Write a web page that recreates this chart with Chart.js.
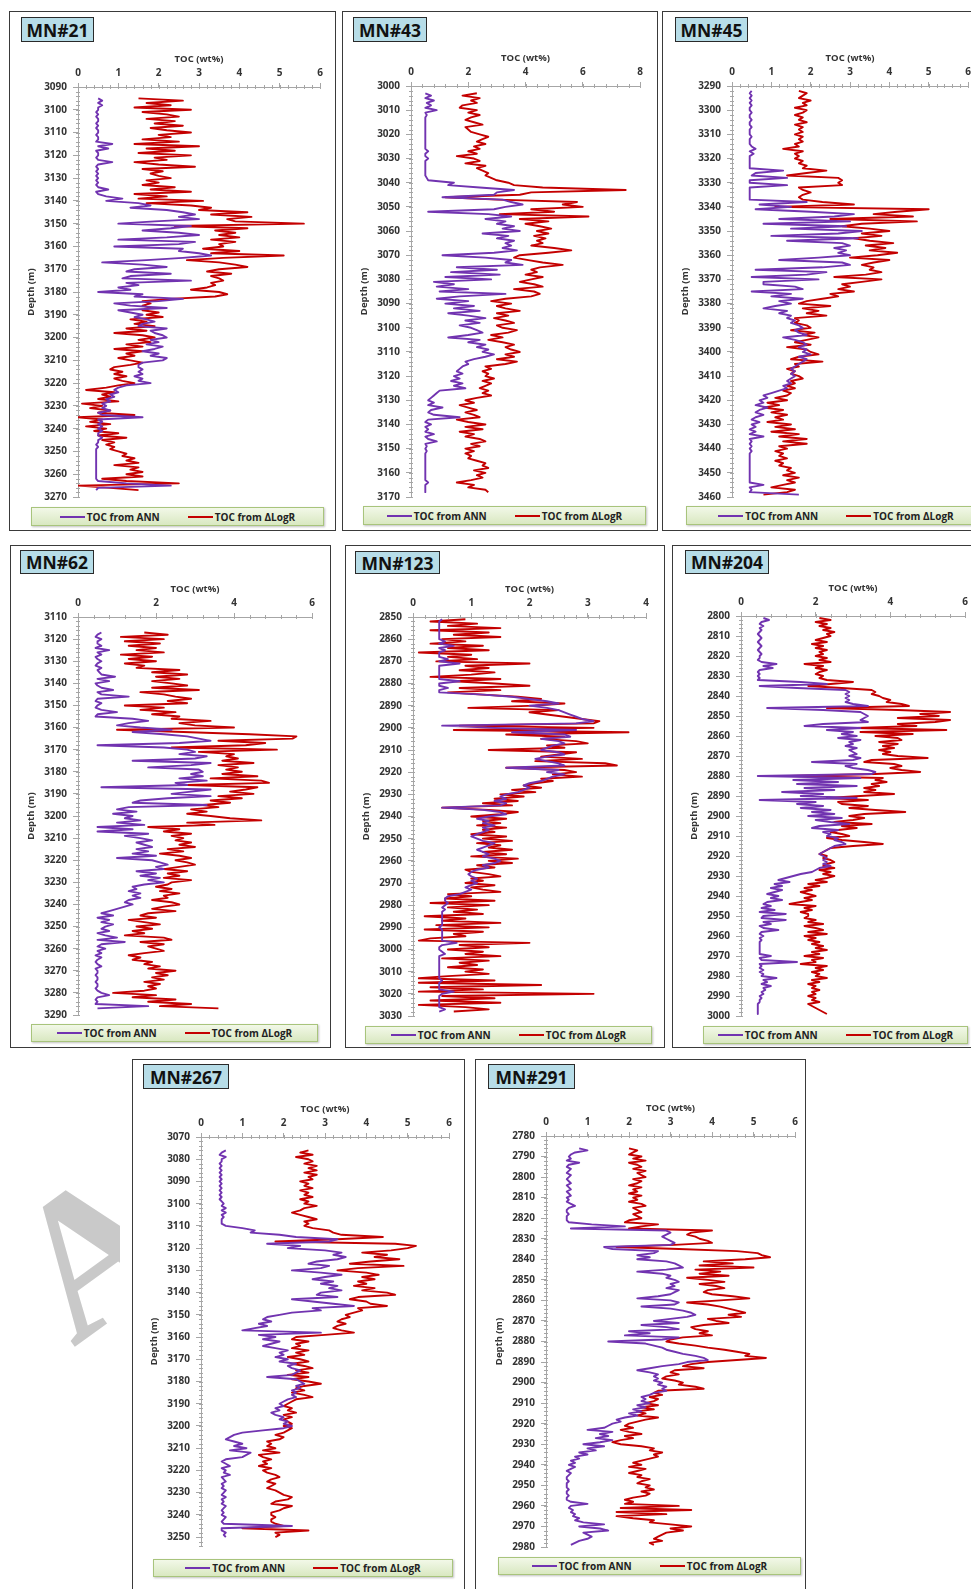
<!DOCTYPE html>
<html>
<head>
<meta charset="utf-8">
<title>TOC from ANN and ΔLogR</title>
<script src="https://cdn.jsdelivr.net/npm/chart.js@4.4.1/dist/chart.umd.min.js"></script>
<style>
  html, body { margin: 0; padding: 0; background: #fff; }
  body { position: relative; width: 971px; height: 1589px; overflow: hidden; font-family: "Open Sans", "DejaVu Sans", sans-serif; }
  .panel { position: absolute; box-sizing: border-box; border: 1.5px solid #3a3a3a; background: #fff; }
  .well-name { position: absolute; box-sizing: border-box; background: #b7dde8; border: 1.5px solid #2a2a2a;
    font-weight: 700; font-size: 17.5px; color: #111; display: flex; align-items: center; justify-content: center; }
  .legend { position: absolute; box-sizing: border-box; border: 1px solid #a8c47c;
    background: linear-gradient(#f2f8e8, #d9e8c1); box-shadow: 1px 1px 2px rgba(0,0,0,0.25);
    display: flex; align-items: center; justify-content: center; gap: 28px;
    font-size: 10px; font-weight: 700; color: #222; }
  .legend span { display: flex; align-items: center; }
  .legend i { display: inline-block; width: 25px; height: 2px; margin-right: 2px; }
  canvas.log { position: absolute; }
  .stamp-clip { position: absolute; left: 0; top: 1150px; width: 120px; height: 230px; overflow: hidden; }
  .stamp { position: absolute; left: -18px; top: 14px; font-family: "Liberation Serif", "DejaVu Serif", serif;
    font-weight: 700; font-size: 200px; line-height: 1; color: #c9c9c9; transform: rotate(-36deg); transform-origin: 72px 35px; }
</style>
</head>
<body>
<div class="stamp-clip"><span class="stamp">A</span></div>
<script>
// TOC logs, one sample per metre of depth starting at each well's top depth
const DEPTH_STEP = 1;

const mn21Top = 3095;
const mn21Ann = [
  0.5, 0.6, 0.5, 0.6, 0.5,
  0.5, 0.45, 0.5, 0.45, 0.5, 0.5, 0.45, 0.5, 0.45, 0.5,
  0.5, 0.45, 0.5, 0.5, 0.45, 0.85, 0.5, 0.75, 0.45, 0.5,
  0.5, 0.45, 0.5, 0.85, 0.5, 0.45, 0.5, 0.45, 0.5, 0.45,
  0.5, 0.45, 0.5, 0.45, 0.5, 0.75, 0.45, 0.5, 0.7, 1.1,
  0.7, 1.5, 1.8, 1.3, 2.2, 2.6, 2.9, 2.5, 3.0, 1.9,
  1.0, 2.8, 2.3, 1.6, 2.5, 3.0, 2.2, 1.0, 2.9, 2.5,
  0.9, 2.6, 2.5, 3.0, 3.3, 2.6, 1.7, 0.6, 1.6, 2.2,
  1.4, 1.2, 2.3, 1.3, 1.1, 2.8, 1.2, 1.5, 1.0, 1.3,
  0.5, 1.6, 1.4, 2.6, 2.0, 0.9, 1.3, 2.2, 1.0, 1.3,
  1.6, 1.4, 1.7, 1.9, 1.6, 1.5, 2.2, 1.8, 1.9, 2.1,
  2.2, 1.8, 2.0, 1.7, 2.1, 1.9, 1.6, 2.0, 1.8, 2.2,
  2.1, 1.6, 1.5, 1.5, 1.6, 1.5, 1.6, 1.4, 1.6, 1.5,
  1.8, 1.2, 1.0, 0.9, 1.0, 0.8, 0.9, 0.7, 0.8, 0.6,
  0.7, 0.6, 0.8, 0.5, 0.6, 1.6, 0.5, 0.6, 0.5, 0.6,
  0.5, 0.6, 0.5, 0.5, 0.6, 0.5, 0.5, 0.45, 0.5, 0.45,
  0.45, 0.45, 0.45, 0.45, 0.45, 0.45, 0.45, 0.45, 0.45, 0.45,
  0.45, 0.45, 0.45, 0.5, 1.2, 2.3, 0.5, 0.45
];
const mn21Dlr = [
  1.5, 2.6, 1.7, 2.3, 1.4,
  2.8, 1.6, 2.2, 2.5, 1.7, 2.4, 1.9, 2.6, 1.8, 2.2,
  2.8, 2.0, 2.3, 1.6, 2.5, 1.4, 3.0, 1.7, 2.4, 1.5,
  2.8, 1.9, 2.2, 1.4, 2.0, 2.9, 1.6, 2.1, 1.8, 2.0,
  2.3, 1.7, 2.0, 1.6, 2.4, 1.8, 2.8, 1.4, 2.2, 1.5,
  3.1, 1.7, 2.8, 3.3, 3.0, 4.2, 3.3, 4.3, 3.7, 3.9,
  5.6, 2.4, 4.2, 3.4, 3.9, 3.5, 4.0, 3.3, 3.9, 3.5,
  3.6, 3.1, 4.0, 3.3, 5.1, 3.6, 2.7, 3.5, 3.9, 4.2,
  3.5, 3.2, 3.8, 3.3, 3.5, 3.6, 3.3, 3.4, 3.2, 2.8,
  3.5, 3.7, 3.4, 2.3, 1.6, 1.8, 1.6, 1.8, 1.6, 2.0,
  1.7, 2.1, 1.3, 1.7, 1.4, 1.9, 1.2, 1.7, 0.9, 1.6,
  1.9, 1.5, 1.8, 1.2, 1.6, 0.9, 1.6, 1.2, 1.4, 1.0,
  1.3, 1.6, 1.3, 0.9, 0.8, 1.1, 0.9, 1.2, 0.9, 1.1,
  1.4, 1.0, 0.7, 0.2, 0.9, 0.6, 0.8, 0.5, 1.0, 0.1,
  0.6, 0.3, 0.8, 0.5, 1.4, 0.0, 0.6, 0.3, 0.8, 0.2,
  0.7, 0.4, 1.0, 0.5, 1.2, 0.6, 0.9, 0.7, 0.9, 0.8,
  1.0, 1.2, 1.1, 1.4, 1.2, 1.5, 0.9, 1.5, 1.3, 1.6,
  1.2, 1.6, 0.6, 1.2, 2.5, 0.0, 0.8, 1.5
];

const mn43Top = 3003;
const mn43Ann = [
  0.5, 0.7, 0.5, 0.8, 0.55, 0.7, 0.5,
  0.9, 0.5, 0.55, 0.5, 0.5, 0.5, 0.5, 0.5, 0.5, 0.5,
  0.5, 0.5, 0.5, 0.5, 0.5, 0.5, 0.5, 0.6, 0.5, 0.5,
  0.6, 0.5, 0.5, 0.5, 0.5, 0.5, 0.5, 0.5, 0.55, 0.6,
  1.5, 1.3, 2.4, 3.6, 3.0, 2.9, 1.1, 3.2, 3.5, 3.9,
  3.3, 2.9, 0.6, 2.7, 3.5, 2.6, 3.3, 3.0, 3.6, 3.2,
  3.8, 2.5, 3.4, 3.0, 3.6, 3.3, 3.5, 3.2, 3.7, 2.9,
  1.1, 2.6, 3.5, 3.3, 3.9, 1.6, 3.0, 1.4, 3.1, 1.2,
  2.8, 0.8, 1.5, 0.9, 2.0, 1.0, 3.3, 1.7, 0.9, 2.0,
  1.2, 2.2, 1.5, 2.4, 1.3, 2.0, 2.6, 1.9, 2.4, 1.7,
  2.1, 2.3, 2.5, 2.0, 1.3, 2.4, 2.0, 2.6, 2.3, 2.7,
  2.5, 2.9, 2.6, 2.2, 1.9, 2.0, 1.8, 1.7, 1.6, 1.8,
  1.5, 1.7, 1.4, 1.8, 1.5, 1.9, 1.0, 0.9, 0.8, 0.7,
  0.6, 0.8, 0.6, 1.1, 0.7, 0.6, 0.8, 1.7, 0.6, 0.5,
  0.7, 0.5, 0.6, 0.5, 0.8, 0.5, 0.6, 0.9, 0.5, 0.55,
  0.5, 0.55, 0.5, 0.5, 0.5, 0.5, 0.5, 0.5, 0.5, 0.5,
  0.5, 0.5, 0.5, 0.5, 0.6, 0.5, 0.5, 0.5, 0.5
];
const mn43Dlr = [
  2.3, 1.8, 2.4, 2.1, 2.3, 1.8, 1.7,
  2.3, 2.0, 2.4, 2.1, 1.9, 2.2, 2.5, 1.9, 2.0, 2.1,
  2.4, 2.7, 2.5, 2.3, 2.6, 2.2, 2.4, 2.0, 2.3, 1.6,
  2.2, 2.4, 1.9, 2.6, 2.3, 2.5, 2.7, 2.6, 2.8, 3.0,
  3.4, 3.6, 4.6, 7.5, 4.2, 3.8, 1.2, 3.0, 5.8, 5.3,
  6.0, 4.2, 5.0, 3.1, 6.2, 3.8, 4.8, 4.0, 4.5, 4.9,
  4.4, 4.8, 4.3, 4.7, 4.4, 4.6, 4.2, 5.0, 5.6, 4.8,
  3.8, 3.6, 4.1, 4.6, 5.3, 4.5, 4.2, 4.4, 4.0, 4.6,
  4.2, 3.8, 4.3, 4.6, 3.6, 4.3, 4.5, 4.2, 3.3, 2.8,
  3.5, 3.0, 3.3, 3.8, 3.0, 3.4, 2.9, 3.3, 3.6, 3.0,
  3.2, 3.7, 3.4, 2.8, 3.2, 2.7, 3.2, 3.6, 3.3, 3.5,
  3.8, 3.3, 3.6, 3.0, 3.7, 3.3, 2.6, 2.8, 2.5, 2.7,
  2.6, 2.9, 2.5, 2.8, 2.6, 2.4, 2.7, 2.5, 2.8, 2.3,
  1.9, 2.2, 1.7, 2.0, 2.3, 1.9, 2.2, 2.4, 1.6, 2.0,
  2.6, 1.9, 2.5, 1.7, 2.2, 1.9, 2.4, 2.6, 2.1, 2.4,
  1.9, 2.2, 1.9, 2.1, 2.0, 2.3, 2.6, 2.5, 2.7, 2.2,
  2.6, 2.3, 2.5, 2.1, 1.6, 2.2, 2.0, 2.6, 2.7
];

const mn45Top = 3292;
const mn45Ann = [
  0.5, 0.45, 0.5, 0.45, 0.5, 0.45, 0.5, 0.45,
  0.45, 0.5, 0.45, 0.45, 0.5, 0.45, 0.45, 0.5, 0.45, 0.45,
  0.45, 0.5, 0.45, 0.45, 0.45, 0.5, 0.6, 0.45, 0.55, 0.45,
  0.45, 0.45, 0.45, 0.45, 0.45, 1.3, 0.6, 0.5, 1.4, 0.45,
  0.45, 1.4, 0.45, 0.45, 0.45, 0.45, 0.45, 0.45, 1.9, 0.7,
  1.5, 0.6, 2.0, 3.1, 2.6, 1.2, 3.0, 0.8, 2.9, 1.5,
  3.3, 2.7, 1.0, 3.2, 1.4, 2.8, 3.0, 2.6, 2.9, 2.7,
  3.0, 2.2, 1.2, 2.8, 3.0, 2.3, 0.6, 2.4, 1.9, 0.5,
  2.2, 0.8, 0.8, 1.6, 1.8, 0.5, 1.5, 1.0, 1.8, 1.2,
  1.5, 1.1, 0.8, 1.4, 1.2, 1.5, 1.4, 1.6, 1.5, 1.7,
  1.8, 1.6, 1.7, 1.9, 1.3, 1.6, 1.8, 1.9, 1.7, 1.9,
  1.8, 2.0, 1.7, 1.9, 1.8, 1.7, 1.6, 1.5, 1.6, 1.5,
  1.6, 1.5, 1.4, 1.5, 1.3, 1.4, 1.2, 1.0, 0.8, 0.9,
  0.7, 0.8, 0.6, 0.9, 0.7, 0.6, 0.8, 0.6, 0.5, 0.7,
  0.5, 0.6, 0.45, 0.6, 0.45, 0.8, 0.45, 0.5, 0.45, 0.5,
  0.45, 0.5, 0.45, 0.45, 0.45, 0.45, 0.45, 0.45, 0.45, 0.45,
  0.45, 0.45, 0.45, 0.45, 0.45, 0.8, 0.45, 0.5, 0.45, 1.7
];
const mn45Dlr = [
  1.7, 1.9, 1.8, 1.7, 2.0, 1.8, 1.9, 1.6,
  1.9, 1.8, 1.6, 1.8, 1.7, 1.9, 1.6, 1.8, 1.7, 1.8,
  1.6, 1.8, 1.7, 1.8, 1.6, 1.7, 1.3, 1.8, 1.6, 1.7,
  1.6, 1.8, 1.7, 1.9, 1.8, 2.4, 1.9, 1.4, 2.7, 2.8,
  2.7, 2.8, 1.7, 1.8, 2.0, 1.8, 1.7, 1.8, 2.3, 3.1,
  1.1, 5.0, 4.2, 3.6, 4.6, 2.5, 4.7, 3.3, 2.8, 3.5,
  4.0, 3.3, 3.8, 3.1, 3.5, 4.1, 3.4, 3.9, 3.5, 4.2,
  3.7, 3.0, 4.0, 3.6, 3.3, 3.6, 3.5, 3.8, 3.4, 2.6,
  3.8, 3.3, 2.8, 3.0, 2.7, 3.1, 2.5, 2.7, 2.3, 1.9,
  1.7, 2.5, 1.8, 2.2, 1.9, 2.4, 1.6, 1.7, 1.6, 1.9,
  2.0, 1.5, 2.1, 1.8, 2.2, 1.9, 1.6, 2.0, 1.4, 1.9,
  2.0, 2.2, 1.7, 1.5, 2.3, 1.6, 1.7, 1.4, 1.6, 1.5,
  1.7, 1.8, 1.5, 1.6, 1.4, 1.6, 1.3, 1.5, 1.4, 1.1,
  1.4, 0.9, 1.2, 0.8, 1.3, 1.0, 1.4, 1.1, 1.3, 0.9,
  1.5, 1.1, 1.6, 1.0, 1.7, 1.2, 1.9, 1.3, 1.9, 1.2,
  1.4, 1.1, 1.3, 1.2, 1.4, 1.1, 1.3, 1.2, 1.5, 1.4,
  1.6, 1.3, 1.7, 1.4, 1.6, 1.3, 1.0, 1.6, 1.4, 0.8
];

const mn62Top = 3117;
const mn62Ann = [
  0.6, 0.5, 0.45,
  0.6, 0.5, 0.5, 0.6, 0.45, 0.8, 0.5, 0.6, 0.45, 0.5,
  0.6, 0.5, 0.45, 0.6, 0.5, 0.55, 0.6, 0.95, 0.5, 0.8,
  0.45, 0.5, 0.6, 0.9, 0.5, 0.6, 1.3, 0.5, 0.45, 0.6,
  0.5, 0.45, 0.6, 1.0, 0.5, 0.45, 1.4, 1.8, 1.3, 1.0,
  1.6, 2.4, 1.4, 2.2, 2.8, 3.1, 3.4, 2.6, 0.5, 2.2,
  2.8, 3.0, 2.6, 3.3, 3.0, 1.4, 3.4, 2.9, 1.8, 3.1,
  3.2, 2.9, 3.2, 2.6, 3.3, 2.5, 2.8, 0.6, 3.4, 2.9,
  2.4, 3.4, 2.3, 1.6, 1.4, 3.3, 1.3, 1.0, 1.5, 0.9,
  1.4, 1.2, 1.6, 1.0, 1.7, 0.5, 1.4, 0.5, 1.8, 1.2,
  1.6, 1.9, 1.5, 1.7, 1.9, 1.5, 1.8, 1.4, 2.0, 1.0,
  1.9, 2.1, 2.3, 2.0, 2.2, 1.5, 2.0, 1.6, 2.1, 1.8,
  2.2, 1.7, 1.4, 1.5, 1.3, 1.6, 1.4, 1.6, 1.3, 1.2,
  1.4, 1.2, 1.0, 0.8, 0.6, 0.9, 0.5, 0.8, 0.6, 0.9,
  0.7, 0.6, 0.8, 0.5, 0.7, 1.0, 0.5, 1.2, 0.6, 0.5,
  0.7, 0.5, 0.6, 0.45, 0.6, 0.5, 0.45, 0.5, 0.6, 0.45,
  0.5, 0.5, 0.45, 0.5, 0.5, 0.45, 0.5, 0.5, 0.45, 0.5,
  0.6, 0.8, 0.5, 0.45, 0.5, 0.45, 1.8, 0.5
];
const mn62Dlr = [
  1.7, 2.3, 1.1,
  2.2, 1.2, 2.1, 1.3, 2.0, 1.5, 2.2, 1.1, 1.9, 1.3,
  2.0, 1.2, 1.7, 1.5, 2.6, 1.9, 2.8, 2.0, 2.6, 1.9,
  2.4, 2.8, 1.9, 3.1, 1.6, 2.2, 2.5, 2.9, 2.3, 2.8,
  1.2, 2.2, 1.6, 2.5, 1.9, 2.6, 2.4, 3.4, 2.6, 3.0,
  4.0, 1.0, 2.7, 4.4, 5.6, 5.5, 3.6, 4.8, 4.3, 2.4,
  5.1, 3.1, 4.0, 3.8, 4.1, 3.7, 4.5, 3.6, 4.1, 3.8,
  4.2, 3.7, 4.6, 3.4, 4.7, 4.9, 2.8, 4.6, 4.3, 3.9,
  4.5, 3.6, 4.2, 3.4, 3.9, 3.2, 3.6, 2.9, 3.3, 2.8,
  3.4, 3.9, 4.7, 2.8, 3.5, 1.8, 2.6, 2.2, 2.9, 2.4,
  2.7, 2.5, 2.9, 2.6, 3.0, 2.3, 2.7, 2.1, 2.6, 2.9,
  2.5, 2.8, 3.0, 2.6, 2.2, 2.8, 2.3, 2.6, 2.2, 2.9,
  2.4, 2.3, 2.0, 2.4, 2.1, 2.6, 2.2, 2.3, 1.9, 2.4,
  2.6, 2.2, 1.9, 2.5, 1.8, 1.6, 2.0, 1.3, 1.7, 2.1,
  1.5, 1.9, 1.4, 1.7, 1.2, 2.2, 2.4, 1.6, 2.2, 1.8,
  2.0, 2.2, 1.7, 1.3, 1.6, 1.4, 1.9, 1.7, 2.1, 1.8,
  2.5, 2.0, 2.3, 1.9, 2.2, 1.7, 2.1, 1.8, 2.0, 1.7,
  0.9, 2.0, 1.4, 2.5, 1.8, 2.9, 2.1, 3.6
];

const mn123Top = 2851;
const mn123Ann = [
  0.5, 0.45, 0.45, 0.45, 0.45, 0.45, 0.45, 0.45, 0.45,
  0.45, 0.55, 0.45, 0.7, 0.45, 0.55, 0.45, 0.45, 0.45, 0.6,
  0.45, 0.8, 0.45, 0.45, 0.45, 0.45, 0.45, 0.45, 0.45, 0.8,
  0.45, 0.45, 0.6, 0.45, 0.45, 1.2, 1.7, 2.0, 2.3, 2.5,
  2.0, 2.3, 2.5, 2.6, 2.7, 2.8, 2.9, 3.1, 2.8, 0.5,
  1.4, 2.8, 1.7, 2.6, 2.7, 2.2, 2.5, 2.6, 2.4, 2.3,
  2.2, 2.5, 2.6, 2.3, 2.1, 2.3, 2.5, 2.6, 1.6, 2.5,
  2.3, 2.6, 2.4, 2.3, 2.2, 2.0, 1.9, 2.0, 1.9, 1.8,
  1.6, 1.5, 1.6, 1.4, 1.6, 1.5, 0.5, 1.2, 1.5, 1.6,
  1.3, 1.1, 1.3, 1.2, 1.4, 1.2, 1.3, 1.2, 1.1, 1.0,
  1.1, 1.2, 1.4, 1.3, 1.2, 1.1, 1.2, 1.3, 1.2, 1.4,
  1.5, 1.4, 1.2, 1.3, 1.1, 1.0, 0.95, 1.0, 1.1, 1.0,
  1.1, 1.0, 0.9, 1.0, 0.9, 0.8, 0.6, 0.55, 0.55, 0.6,
  0.55, 0.5, 0.55, 0.5, 0.5, 0.5, 0.5, 0.5, 0.5, 0.5,
  0.45, 0.5, 0.5, 0.5, 0.5, 0.5, 0.5, 0.75, 0.5, 0.45,
  0.45, 0.5, 0.55, 0.45, 0.45, 0.45, 0.45, 0.45, 0.45, 0.45,
  0.45, 0.45, 0.45, 0.45, 0.5, 0.45, 0.45, 0.45, 0.45, 0.7,
  0.5, 0.45, 0.45, 0.45, 0.45, 0.45, 0.45, 0.55, 0.45
];
const mn123Dlr = [
  0.9, 0.3, 1.1, 0.6, 1.5, 0.3, 1.3, 0.7, 1.5,
  0.5, 0.9, 0.3, 1.2, 0.6, 1.3, 0.1, 1.0, 0.6, 1.1,
  0.4, 2.0, 0.9, 1.3, 0.8, 1.4, 1.0, 0.3, 1.5, 0.7,
  1.4, 2.0, 0.8, 1.5, 0.6, 1.2, 1.8, 2.2, 1.7, 2.6,
  2.1, 0.95, 2.5, 2.0, 2.3, 2.6, 2.9, 3.2, 3.1, 0.8,
  3.1, 0.7, 3.7, 1.6, 2.6, 2.2, 2.8, 3.0, 2.3, 2.6,
  1.3, 2.8, 2.5, 2.2, 2.9, 2.1, 3.3, 3.5, 1.6, 2.6,
  2.8, 2.4, 2.9, 2.2, 2.4, 2.1, 1.9, 2.2, 1.7, 2.1,
  1.5, 1.9, 1.4, 1.8, 1.2, 1.7, 0.5, 1.3, 1.8, 1.5,
  1.0, 1.6, 1.2, 1.5, 1.1, 1.6, 1.2, 1.4, 1.0, 1.6,
  1.2, 1.7, 1.1, 1.5, 1.3, 1.7, 1.2, 1.6, 1.0, 1.8,
  1.3, 1.7, 1.1, 1.4, 0.9, 1.0, 1.3, 1.5, 1.0, 1.2,
  0.9, 1.4, 1.0, 1.2, 1.5, 0.6, 1.0, 0.55, 1.4, 0.3,
  1.3, 0.6, 1.1, 0.7, 1.2, 0.2, 0.9, 0.5, 1.5, 0.4,
  1.3, 0.2, 1.2, 0.7, 0.9, 0.3, 0.1, 2.0, 0.8, 1.3,
  0.6, 1.2, 0.9, 1.5, 0.5, 1.3, 0.8, 1.1, 0.6, 1.2,
  0.9, 1.3, 0.6, 0.1, 1.4, 0.1, 2.2, 0.3, 1.2, 0.1,
  3.1, 0.5, 1.4, 0.3, 1.5, 0.1, 0.9, 1.3, 0.7
];

const mn204Top = 2801;
const mn204Ann = [
  0.6, 0.75, 0.55, 0.5, 0.6, 0.5, 0.55, 0.5, 0.45,
  0.5, 0.55, 0.5, 0.45, 0.5, 0.55, 0.5, 0.45, 0.5, 0.55,
  0.5, 0.5, 0.45, 0.55, 0.95, 0.6, 0.85, 0.5, 0.45, 0.5,
  0.45, 0.5, 0.45, 1.6, 2.3, 0.5, 1.5, 2.8, 2.9, 2.8,
  2.9, 2.8, 2.9, 2.8, 3.0, 3.4, 0.7, 2.2, 3.2, 3.3,
  3.4, 3.3, 3.2, 3.4, 2.2, 1.7, 3.2, 2.3, 3.0, 2.7,
  3.1, 2.6, 3.2, 2.9, 3.0, 2.8, 3.1, 2.9, 3.0, 3.1,
  2.9, 3.2, 3.0, 1.9, 3.1, 2.8, 3.0, 3.4, 3.6, 3.5,
  0.45, 3.2, 1.4, 2.6, 1.5, 3.1, 1.7, 2.5, 1.1, 2.2,
  1.6, 3.1, 0.5, 2.0, 1.5, 2.2, 1.6, 2.4, 1.9, 2.5,
  1.8, 2.7, 2.0, 2.4, 2.9, 2.1, 1.9, 2.6, 2.2, 2.4,
  2.3, 2.6, 2.5, 2.7, 2.8, 2.5, 2.4, 2.3, 2.2, 2.1,
  2.2, 2.3, 2.2, 2.3, 2.2, 2.4, 2.1, 2.0, 1.9, 1.6,
  1.4, 1.2, 1.0, 1.3, 0.9, 1.1, 0.8, 1.1, 0.9, 0.7,
  1.0, 0.8, 1.1, 0.7, 0.6, 0.8, 0.55, 0.9, 0.5, 1.2,
  0.6, 0.55, 1.2, 0.6, 0.8, 0.5, 0.6, 1.0, 0.55, 0.5,
  0.6, 0.5, 0.55, 0.5, 0.5, 0.5, 0.5, 0.5, 0.5, 0.5,
  0.8, 0.5, 0.55, 1.5, 0.5, 0.55, 0.5, 0.6, 0.5, 0.6,
  0.55, 0.95, 0.6, 0.7, 0.55, 0.8, 0.6, 0.65, 0.55, 0.6,
  0.5, 0.55, 0.5, 0.5, 0.45, 0.45, 0.45, 0.45, 0.45, 0.45
];
const mn204Dlr = [
  2.1, 2.4, 2.0, 2.3, 2.1, 2.4, 2.2, 2.5, 2.3,
  2.4, 2.2, 2.0, 2.3, 1.9, 2.2, 2.0, 2.3, 2.1, 2.2,
  2.0, 2.3, 2.1, 2.4, 1.7, 2.2, 2.0, 2.3, 2.1, 2.0,
  2.2, 2.1, 2.3, 3.0, 2.4, 1.8, 2.7, 3.5, 3.6, 3.5,
  3.7, 3.8, 4.0, 3.9, 4.3, 4.5, 2.3, 4.2, 5.6, 4.8,
  5.3, 4.2, 5.6, 5.2, 4.2, 4.7, 3.1, 5.5, 3.2, 4.6,
  3.6, 4.2, 4.3, 3.7, 4.2, 3.8, 4.1, 3.7, 4.0, 3.8,
  4.2, 5.0, 3.5, 3.3, 4.1, 4.3, 4.0, 4.3, 4.8, 3.6,
  1.3, 3.8, 3.6, 3.9, 3.5, 3.7, 3.3, 3.6, 3.3, 4.1,
  3.2, 2.3, 3.4, 2.6, 2.7, 3.4, 2.9, 3.6, 4.4, 3.3,
  2.9, 3.3, 3.0, 2.5, 3.5, 2.7, 3.1, 2.6, 2.4, 2.7,
  2.9, 2.3, 2.7, 3.3, 3.8, 3.0, 2.4, 2.3, 2.2, 2.1,
  2.3, 2.2, 2.4, 2.5, 2.3, 2.2, 2.5, 2.1, 2.4, 2.2,
  2.5, 2.3, 2.0, 2.3, 1.8, 2.1, 1.7, 1.9, 1.6, 1.8,
  2.0, 1.7, 1.9, 1.6, 1.3, 2.0, 1.7, 1.9, 1.6, 1.8,
  1.8, 1.7, 2.0, 1.8, 2.2, 1.7, 2.0, 2.2, 1.8, 2.3,
  1.7, 2.0, 1.8, 2.1, 1.9, 2.2, 2.0, 2.3, 1.9, 2.1,
  1.7, 2.2, 1.9, 2.0, 1.6, 2.3, 2.0, 2.2, 1.9, 2.1,
  2.0, 2.3, 1.9, 2.1, 1.8, 2.0, 1.9, 2.1, 1.9, 2.0,
  1.8, 2.0, 1.9, 2.1, 1.8, 1.9, 2.0, 2.1, 2.2, 2.3
];

const mn267Top = 3076;
const mn267Ann = [
  0.6, 0.5, 0.45, 0.6,
  0.5, 0.5, 0.45, 0.5, 0.45, 0.5, 0.45, 0.5, 0.45, 0.5,
  0.45, 0.5, 0.45, 0.5, 0.45, 0.5, 0.45, 0.5, 0.45, 0.5,
  0.55, 0.5, 0.6, 0.5, 0.6, 0.5, 0.55, 0.5, 0.5, 0.5,
  0.6, 1.0, 1.3, 1.2, 1.9, 2.3, 3.3, 3.1, 1.6, 2.4,
  2.1, 3.0, 3.4, 3.2, 3.5, 3.3, 2.8, 2.6, 3.1, 2.9,
  2.2, 2.9, 3.4, 3.0, 2.7, 3.2, 2.9, 3.3, 3.1, 3.4,
  2.9, 2.8, 3.3, 2.2, 2.7, 3.2, 3.7, 2.7, 2.9, 2.2,
  1.9, 1.6, 1.5, 1.7, 1.4, 1.6, 1.3, 1.0, 2.9, 1.4,
  1.8, 1.5, 1.9, 1.7, 1.5, 1.8, 2.1, 1.9, 2.0, 1.8,
  2.1, 1.9, 2.3, 2.1, 2.2, 2.4, 2.3, 2.2, 1.6, 2.3,
  2.4, 2.5, 2.3, 2.4, 2.2, 2.3, 2.2, 2.3, 2.1, 2.0,
  1.9, 2.0, 1.8, 1.9, 1.7, 1.8, 2.0, 1.9, 2.1, 2.0,
  2.2, 2.0, 1.5, 1.0, 0.8, 0.7, 0.6, 0.8, 1.0, 0.8,
  1.1, 0.7, 1.2, 1.1, 1.0, 0.6, 0.5, 0.6, 0.7, 0.5,
  0.6, 0.55, 0.7, 0.5, 0.55, 0.6, 0.5, 0.55, 0.5, 0.6,
  0.55, 0.5, 0.6, 0.5, 0.55, 0.5, 0.6, 0.55, 0.5, 0.55,
  0.5, 0.6, 0.55, 0.5, 0.55, 2.2, 0.5, 0.5, 0.6, 0.55,
  0.6
];
const mn267Dlr = [
  2.6, 2.4, 2.7, 2.3,
  2.6, 2.7, 2.5, 2.8, 2.6, 2.8, 2.5, 2.8, 2.6, 2.7,
  2.4, 2.6, 2.5, 2.7, 2.4, 2.6, 2.5, 2.7, 2.4, 2.6,
  2.5, 2.8, 2.5, 2.4, 2.2, 2.4, 2.6, 2.8, 2.5, 2.6,
  2.5, 2.7, 3.1, 3.2, 3.4, 4.4, 3.3, 1.8, 4.7, 5.2,
  5.0, 4.6, 3.9, 4.5, 4.2, 4.8, 4.1, 3.6, 4.9, 3.8,
  3.3, 4.0, 4.3, 3.9, 4.2, 3.8, 4.0, 3.7, 4.2, 3.9,
  4.5, 4.7, 3.8, 3.6, 4.0, 4.1, 4.5, 3.8, 3.9, 3.7,
  3.5, 3.6, 3.4, 3.3, 3.5, 3.3, 3.2, 3.4, 3.7, 3.0,
  2.3, 2.2, 2.6, 2.3, 2.4, 2.2, 2.6, 2.3, 2.5, 2.1,
  2.4, 2.6, 2.2, 2.5, 2.7, 2.3, 2.6, 2.1, 2.6, 2.2,
  2.6, 2.9, 2.5, 2.3, 2.5, 2.2, 2.5, 2.7, 2.3, 2.2,
  2.1, 2.0, 2.2, 2.1, 2.3, 2.0, 2.2, 2.0, 2.1, 2.2,
  2.0, 2.2, 2.1, 2.0, 1.8, 2.0, 1.9, 1.6, 1.7, 1.6,
  1.8, 1.5, 1.9, 1.4, 1.5, 1.7, 1.5, 1.6, 1.4, 1.7,
  1.5, 1.6, 1.8, 1.9, 1.7, 1.6, 1.8, 1.7, 1.6, 1.8,
  1.9, 2.0, 2.2, 2.1, 1.8, 1.7, 2.2, 2.0, 1.9, 1.7,
  1.7, 1.8, 1.7, 1.7, 1.8, 2.0, 1.0, 2.6, 1.8, 1.9,
  1.8
];

const mn291Top = 2786;
const mn291Ann = [
  0.8, 1.0, 0.7, 0.6,
  0.55, 0.6, 0.5, 0.8, 0.55, 0.5, 0.6, 0.55, 0.5, 0.6,
  0.55, 0.5, 0.55, 0.6, 0.5, 0.55, 0.6, 0.5, 0.55, 0.6,
  0.5, 0.55, 0.5, 0.6, 0.7, 0.55, 0.5, 0.5, 0.55, 0.5,
  0.5, 0.5, 0.55, 1.1, 1.9, 0.6, 2.9, 3.0, 2.9, 2.8,
  2.9, 3.0, 3.1, 3.0, 1.4, 1.6, 2.7, 2.6, 2.2, 2.5,
  2.2, 2.9, 3.1, 3.2, 3.3, 2.9, 2.2, 2.8, 3.0, 2.9,
  3.1, 3.2, 3.0, 3.1, 2.9, 3.2, 3.1, 3.0, 2.7, 2.2,
  3.0, 3.2, 3.1, 2.3, 3.0, 3.3, 3.5, 3.6, 3.4, 3.0,
  2.6, 3.2, 2.3, 2.9, 3.2, 2.0, 2.5, 1.9, 3.2, 2.8,
  1.5, 2.4, 2.6, 2.8, 2.9, 3.1, 3.3, 3.6, 3.8, 3.9,
  3.4, 3.2, 2.8, 2.5, 2.2, 2.5, 2.7, 2.6, 2.7, 2.6,
  2.8, 2.7, 2.9, 2.8, 2.9, 2.6, 2.5, 2.3, 2.4, 2.3,
  2.5, 2.2, 2.4, 2.1, 2.3, 2.0, 2.2, 1.9, 1.7, 1.8,
  1.6, 1.5, 1.4, 1.0, 1.6, 1.3, 1.5, 1.2, 1.6, 1.3,
  0.9, 1.4, 1.0, 1.2, 0.8, 1.0, 0.7, 0.8, 0.6, 0.7,
  0.55, 0.7, 0.6, 0.5, 0.6, 0.55, 0.5, 0.5, 0.55, 0.5,
  0.5, 0.5, 0.55, 0.5, 0.5, 0.55, 0.5, 0.5, 0.6, 1.0,
  0.6, 0.55, 0.65, 0.6, 0.7, 0.65, 0.8, 0.7, 0.9, 1.4,
  0.8, 1.3, 1.5, 0.9, 1.0, 1.1, 1.0, 0.8, 0.7, 0.6
];
const mn291Dlr = [
  2.0, 2.2, 2.1, 2.0,
  2.3, 2.1, 2.4, 2.0, 2.2, 2.3, 2.1, 2.4, 2.2, 2.3,
  2.4, 2.1, 2.3, 2.2, 2.0, 2.3, 2.1, 2.2, 2.0, 2.3,
  2.1, 2.2, 2.0, 2.3, 2.4, 2.1, 2.2, 2.3, 2.1, 2.2,
  2.3, 2.0, 1.9, 2.7, 2.3, 2.0, 4.0, 3.5, 3.4, 3.6,
  3.7, 3.9, 4.0, 3.1, 1.7, 3.2, 4.6, 5.1, 5.2, 5.4,
  4.8, 3.8, 4.5, 3.7, 5.0, 3.6, 4.2, 3.7, 4.4, 3.4,
  3.9, 4.3, 3.7, 4.1, 4.3, 3.9, 3.8, 4.0, 4.5, 4.9,
  4.2, 3.4, 3.9, 4.2, 4.4, 4.6, 4.8, 4.4, 4.7, 3.9,
  4.1, 4.4, 3.8, 3.5, 3.6, 3.9, 3.7, 4.0, 3.3, 3.0,
  2.9, 3.2, 3.6, 3.9, 4.3, 4.6, 4.9, 4.8, 5.3, 4.6,
  3.9, 3.5, 3.3, 3.8, 3.1, 3.0, 3.2, 2.9, 2.8, 3.1,
  3.3, 3.2, 3.6, 3.8, 2.7, 2.6, 2.8, 2.5, 2.7, 2.6,
  2.4, 2.7, 2.3, 2.6, 2.2, 2.4, 2.2, 2.7, 2.4, 2.2,
  2.0, 1.9, 2.1, 1.8, 2.0, 2.3, 1.9, 2.1, 1.8, 1.6,
  1.8, 2.3, 2.6, 2.5, 2.8, 2.6, 2.7, 2.5, 2.3, 2.1,
  2.3, 2.0, 2.4, 2.2, 2.0, 2.3, 2.2, 2.5, 2.3, 2.2,
  2.5, 2.4, 2.6, 2.3, 2.5, 2.4, 2.1, 1.9, 2.1, 1.9,
  3.2, 1.8, 3.5, 1.7, 2.9, 1.7, 2.1, 2.6, 2.5, 3.0,
  3.5, 3.0, 3.3, 2.9, 2.8, 2.7, 2.6, 2.8, 2.5, 2.6
];

const seriesLabels = ['TOC from ANN', 'TOC from ΔLogR'];
const seriesColors = ['#7133b0', '#c40000'];

// page layout: panel frame, name tag, plot area and legend box, in page pixels
const wells = [
  { name: 'MN#21', top: mn21Top, ann: mn21Ann, dlr: mn21Dlr, depth: [3090, 3270], toc: [6, 1],
    frame: [9, 11, 327, 520], tag: [21, 17, 73, 25], plot: [78, 87, 320, 497], legend: [31, 507, 293, 19] },
  { name: 'MN#43', top: mn43Top, ann: mn43Ann, dlr: mn43Dlr, depth: [3000, 3170], toc: [8, 2],
    frame: [342, 11, 316, 520], tag: [353, 17, 74, 25], plot: [411, 86, 640, 497], legend: [363, 506, 283, 19] },
  { name: 'MN#45', top: mn45Top, ann: mn45Ann, dlr: mn45Dlr, depth: [3290, 3460], toc: [6, 1],
    frame: [662, 11, 320, 520], tag: [675, 17, 73, 25], plot: [732, 86, 968, 497], legend: [686, 506, 300, 19] },
  { name: 'MN#62', top: mn62Top, ann: mn62Ann, dlr: mn62Dlr, depth: [3110, 3290], toc: [6, 2],
    frame: [10, 545, 321, 503], tag: [20, 550, 74, 24], plot: [78, 617, 312, 1015], legend: [31, 1024, 287, 18] },
  { name: 'MN#123', top: mn123Top, ann: mn123Ann, dlr: mn123Dlr, depth: [2850, 3030], toc: [4, 1],
    frame: [345, 545, 320, 503], tag: [355, 551, 85, 23], plot: [413, 617, 646, 1016], legend: [365, 1026, 287, 18] },
  { name: 'MN#204', top: mn204Top, ann: mn204Ann, dlr: mn204Dlr, depth: [2800, 3000], toc: [6, 2],
    frame: [672, 545, 310, 503], tag: [685, 550, 84, 24], plot: [741, 616, 965, 1016], legend: [703, 1026, 265, 18] },
  { name: 'MN#267', top: mn267Top, ann: mn267Ann, dlr: mn267Dlr, depth: [3070, 3254], toc: [6, 1],
    frame: [132, 1059, 333, 540], tag: [143, 1064, 86, 25], plot: [201, 1137, 449, 1546], legend: [153, 1559, 300, 18] },
  { name: 'MN#291', top: mn291Top, ann: mn291Ann, dlr: mn291Dlr, depth: [2780, 2980], toc: [6, 1],
    frame: [475, 1059, 331, 540], tag: [488, 1064, 87, 25], plot: [546, 1136, 795, 1547], legend: [498, 1557, 303, 18] }
];

const FONT = '"Open Sans", "DejaVu Sans", sans-serif';
const AXIS_W = 52;   // room left of the plot for depth labels and title
const AXIS_H = 34;   // room above the plot for TOC labels and title
const PAD_R = 12;
const PAD_B = 14;
const AXIS_GREY = '#a6a6a6';

// small minor tick marks along both axes
const minorTicks = {
  id: 'minorTicks',
  afterDraw(chart, args, opts) {
    const { ctx, chartArea } = chart;
    const x = chart.scales.x, y = chart.scales.y;
    ctx.save();
    ctx.strokeStyle = AXIS_GREY;
    ctx.lineWidth = 1;
    ctx.beginPath();
    for (let v = x.min; v <= x.max + 1e-6; v += opts.x) {
      const px = Math.round(x.getPixelForValue(v)) + 0.5;
      ctx.moveTo(px, chartArea.top - 2);
      ctx.lineTo(px, chartArea.top + 2);
    }
    for (let d = y.min; d <= y.max + 1e-6; d += opts.y) {
      const py = Math.round(y.getPixelForValue(d)) + 0.5;
      ctx.moveTo(chartArea.left - 2, py);
      ctx.lineTo(chartArea.left + 2, py);
    }
    ctx.stroke();
    ctx.restore();
  }
};

function place(el, box) {
  el.style.left = box[0] + 'px';
  el.style.top = box[1] + 'px';
  el.style.width = box[2] + 'px';
  el.style.height = box[3] + 'px';
}

function toPoints(top, values) {
  return values.map((v, i) => ({ x: v, y: top + i * DEPTH_STEP }));
}

function drawWell(w) {
  const frame = document.createElement('div');
  frame.className = 'panel';
  place(frame, w.frame);
  document.body.appendChild(frame);

  const tag = document.createElement('div');
  tag.className = 'well-name';
  tag.textContent = w.name;
  place(tag, w.tag);
  document.body.appendChild(tag);

  const legend = document.createElement('div');
  legend.className = 'legend';
  legend.innerHTML = seriesLabels.map((s, i) =>
    `<span><i style="background:${seriesColors[i]}"></i>${s}</span>`).join('');
  place(legend, w.legend);
  document.body.appendChild(legend);

  const [pl, pt, pr, pb] = w.plot;
  const canvas = document.createElement('canvas');
  canvas.className = 'log';
  canvas.width = AXIS_W + (pr - pl) + PAD_R;
  canvas.height = AXIS_H + (pb - pt) + PAD_B;
  canvas.style.left = (pl - AXIS_W) + 'px';
  canvas.style.top = (pt - AXIS_H) + 'px';
  document.body.appendChild(canvas);

  const tickFont = { family: FONT, size: 10, weight: 'bold' };

  new Chart(canvas, {
    type: 'scatter',
    data: {
      datasets: [
        { label: seriesLabels[0], data: toPoints(w.top, w.ann), showLine: true,
          borderColor: seriesColors[0], borderWidth: 1.9 },
        { label: seriesLabels[1], data: toPoints(w.top, w.dlr), showLine: true,
          borderColor: seriesColors[1], borderWidth: 1.9 }
      ]
    },
    options: {
      responsive: false,
      animation: false,
      devicePixelRatio: 1,
      layout: { padding: { left: 0, top: 0, right: PAD_R, bottom: PAD_B } },
      elements: {
        point: { radius: 0, hoverRadius: 0 },
        line: { tension: 0, borderJoinStyle: 'round', fill: false }
      },
      plugins: {
        legend: { display: false },
        tooltip: { enabled: false },
        minorTicks: { x: w.toc[1] / 5, y: 2 }
      },
      scales: {
        x: {
          type: 'linear',
          position: 'top',
          min: 0,
          max: w.toc[0],
          ticks: { stepSize: w.toc[1], padding: 4, color: '#333', font: tickFont, maxRotation: 0,
                   callback: v => String(v) },
          grid: { drawOnChartArea: false, drawTicks: true, tickLength: 4, color: AXIS_GREY },
          border: { color: AXIS_GREY, width: 1 },
          title: { display: true, text: 'TOC (wt%)', color: '#333',
                   font: { family: FONT, size: 9.5, weight: 'bold' }, padding: { top: 1, bottom: 0 } },
          afterFit(scale) { scale.height = AXIS_H; }
        },
        y: {
          type: 'linear',
          reverse: true,
          min: w.depth[0],
          max: w.depth[1],
          ticks: { stepSize: 10, includeBounds: false, padding: 6, color: '#333', font: tickFont,
                   autoSkip: false, callback: v => String(v) },
          grid: { drawOnChartArea: false, drawTicks: true, tickLength: 5, color: AXIS_GREY },
          border: { color: AXIS_GREY, width: 1 },
          title: { display: true, text: 'Depth (m)', color: '#333',
                   font: { family: FONT, size: 9.5, weight: 'bold' }, padding: 0 },
          afterFit(scale) { scale.width = AXIS_W; }
        }
      }
    },
    plugins: [minorTicks]
  });
}

wells.forEach(drawWell);
</script>
</body>
</html>
